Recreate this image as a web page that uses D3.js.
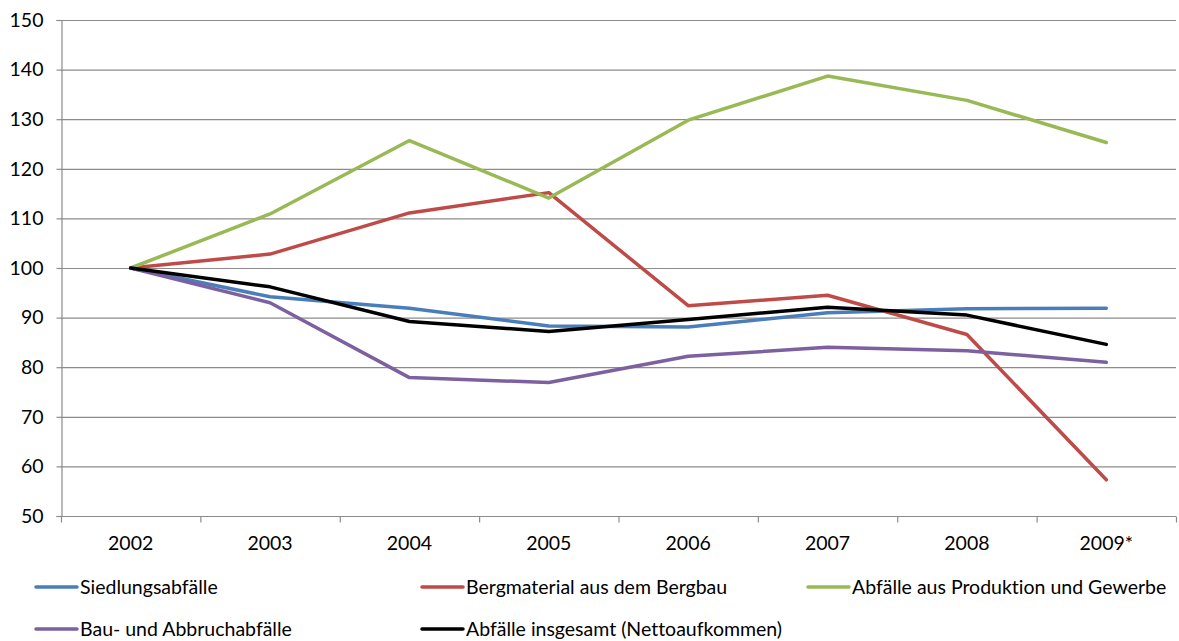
<!DOCTYPE html>
<html>
<head>
<meta charset="utf-8">
<script src="https://cdn.jsdelivr.net/npm/d3@7"></script>
<style>
  html, body { margin: 0; padding: 0; background: #fff; }
  svg { display: block; }
  text { font-family: Lato, "Open Sans", sans-serif; fill: #000; font-variant-ligatures: none; }
</style>
</head>
<body>
<div id="chart"></div>
<script>
// years on the x axis
const years = ['2002', '2003', '2004', '2005', '2006', '2007', '2008', '2009*'];
const yTicks = [50, 60, 70, 80, 90, 100, 110, 120, 130, 140, 150];

// index values (2002 = 100)
const siedlung   = [100, 94.2, 91.9, 88.3, 88.1, 91.0, 91.8, 91.9];
const bergbau    = [100, 102.8, 111.1, 115.2, 92.4, 94.5, 86.6, 57.3];
const produktion = [100, 110.9, 125.7, 114.1, 129.8, 138.7, 133.8, 125.3];
const bau        = [100, 93.0, 77.9, 76.9, 82.2, 84.0, 83.3, 81.0];
const insgesamt  = [100, 96.2, 89.2, 87.2, 89.6, 92.1, 90.5, 84.6];

const seriesNames = ['Siedlungsabfälle', 'Bergmaterial aus dem Bergbau', 'Abfälle aus Produktion und Gewerbe',
                     'Bau- und Abbruchabfälle', 'Abfälle insgesamt (Nettoaufkommen)'];
const seriesValues = [siedlung, bergbau, produktion, bau, insgesamt];
const seriesColors = ['#4a7ebb', '#be4b48', '#98b954', '#7d60a0', '#000000'];

const W = 1179, H = 641;
const m = { left: 61, right: 3, top: 20, bottom: 125 };
const fs = 19.5;

const svg = d3.select('#chart').append('svg').attr('width', W).attr('height', H);

const x = d3.scaleBand().domain(years).range([m.left, W - m.right]);
const y = d3.scaleLinear().domain([50, 150]).range([H - m.bottom, m.top]);

// horizontal gridlines
svg.append('g').selectAll('line').data(yTicks.filter(d => d > 50)).enter().append('line')
  .attr('x1', m.left).attr('x2', W - m.right)
  .attr('y1', d => y(d) + 0.5).attr('y2', d => y(d) + 0.5)
  .attr('stroke', '#8c8c8c').attr('stroke-width', 1.2);

// y axis
const yAxis = svg.append('g').attr('transform', `translate(${m.left + 0.5},0)`)
  .call(d3.axisLeft(y).tickValues(yTicks).tickSize(5).tickPadding(13));
yAxis.select('.domain').attr('stroke', '#8c8c8c').attr('stroke-width', 1.2);
yAxis.selectAll('.tick line').attr('stroke', '#8c8c8c').attr('stroke-width', 1.2);
yAxis.selectAll('.tick text').attr('font-size', fs).attr('font-family', 'Lato, sans-serif');

// x axis: tick marks on the band edges, labels centered
const xg = svg.append('g').attr('transform', `translate(0,${y(50) + 0.5})`);
xg.append('line').attr('x1', m.left).attr('x2', W - m.right).attr('stroke', '#8c8c8c').attr('stroke-width', 1.2);
const edges = years.map(d => x(d)).concat([x(years[years.length - 1]) + x.bandwidth()]);
xg.selectAll('.edge').data(edges).enter().append('line')
  .attr('x1', d => d + 0.5).attr('x2', d => d + 0.5).attr('y1', 0).attr('y2', 6)
  .attr('stroke', '#8c8c8c').attr('stroke-width', 1.2);
xg.selectAll('.lab').data(years).enter().append('text')
  .attr('x', d => x(d) + x.bandwidth() / 2).attr('y', 26)
  .attr('dominant-baseline', 'central').attr('text-anchor', 'middle')
  .attr('font-size', fs).text(d => d);

// series lines
const line = d3.line()
  .x((d, i) => x(years[i]) + x.bandwidth() / 2)
  .y(d => y(d));

seriesValues.forEach((vals, i) => {
  svg.append('path').datum(vals)
    .attr('d', line)
    .attr('fill', 'none')
    .attr('stroke', seriesColors[i])
    .attr('stroke-width', 3.5)
    .attr('stroke-linejoin', 'round')
    .attr('stroke-linecap', 'round');
});

// legend
const legendPos = [[35, 587], [421, 587], [807, 587], [35, 629], [421, 629]];
seriesNames.forEach((name, i) => {
  const g = svg.append('g').attr('transform', `translate(${legendPos[i][0]},${legendPos[i][1]})`);
  g.append('line').attr('x1', 1).attr('x2', 42).attr('y1', 0).attr('y2', 0)
    .attr('stroke', seriesColors[i]).attr('stroke-width', 3.5).attr('stroke-linecap', 'round');
  g.append('text').attr('x', 45).attr('y', -1).attr('dominant-baseline', 'central')
    .attr('font-size', fs).text(name);
});
</script>
</body>
</html>
